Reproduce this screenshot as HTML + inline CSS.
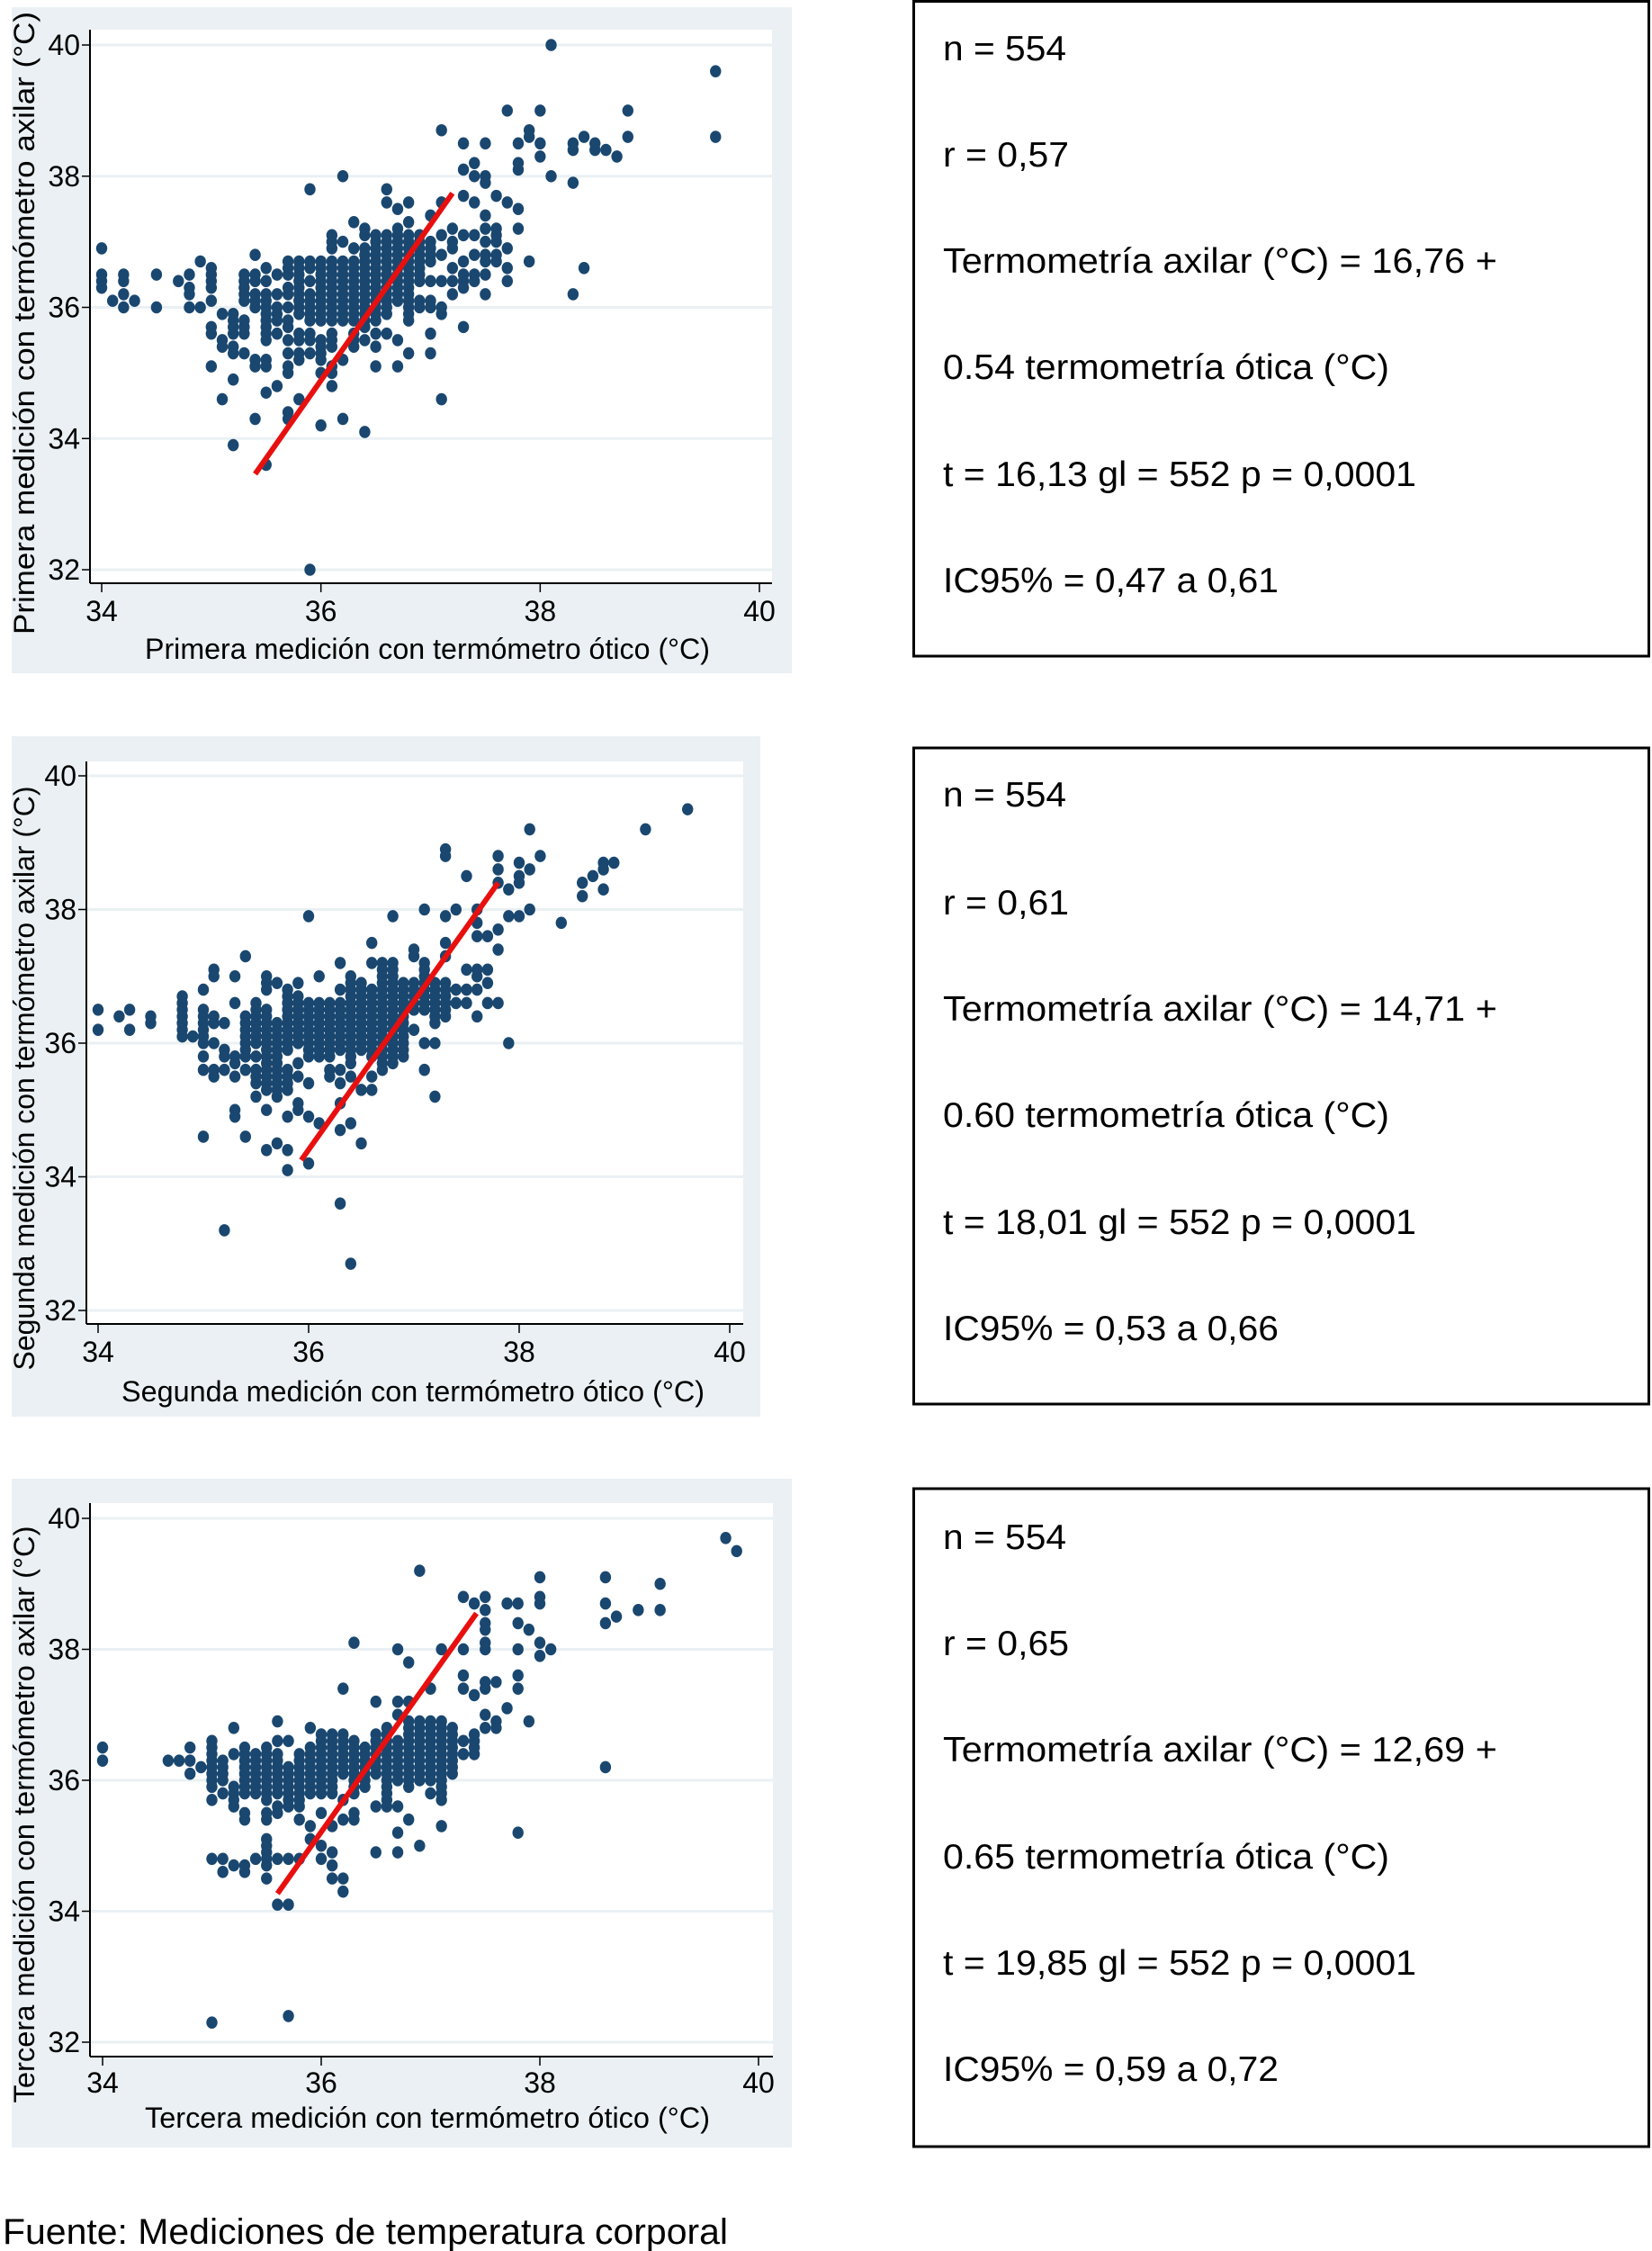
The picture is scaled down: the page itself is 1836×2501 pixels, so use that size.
<!DOCTYPE html>
<html><head><meta charset="utf-8">
<style>
html,body{margin:0;padding:0;background:#fff;}
svg{display:block;font-family:"Liberation Sans",Arial,sans-serif;}
</style></head>
<body>
<svg id="fig" width="1836" height="2501" viewBox="0 0 1836 2501" xmlns="http://www.w3.org/2000/svg">
<rect x="0" y="0" width="1836" height="2501" fill="#fff"/>
<text x="3" y="2493" font-size="40" textLength="806" lengthAdjust="spacingAndGlyphs" fill="#000">Fuente: Mediciones de temperatura corporal</text>
</svg>
<script>
// ---------- data ----------
const xTicks = [34, 36, 38, 40];
const yTicks = [32, 34, 36, 38, 40];

const cols1 = [
[34.0,[36.9,36.5,36.4,36.3]],[34.1,[36.1]],[34.2,[36.5,36.4,36.2,36.0]],[34.3,[36.1]],
[34.5,[36.5,36.0]],[34.7,[36.4]],[34.8,[36.5,36.3,36.2,36.0]],[34.9,[36.7,36.0]],
[35.0,[36.6,36.5,36.4,36.3,36.1,35.7,35.6,35.1]],[35.1,[35.9,35.5,35.4,34.6]],
[35.2,[35.9,35.8,35.7,35.6,35.4,35.3,34.9,33.9]],[35.3,[36.5,36.4,36.3,36.2,36.1,35.8,35.7,35.6,35.3]],
[35.4,[36.8,36.5,36.4,36.2,36.1,36.0,35.2,35.1,34.3]],
[35.5,[36.6,36.4,36.2,36.1,36.0,35.9,35.8,35.7,35.6,35.5,35.2,35.1,34.7,33.6]],
[35.6,[36.5,36.2,36.0,35.9,35.8,35.6,34.8]],
[35.7,[36.7,36.6,36.5,36.3,36.2,36.0,35.8,35.7,35.5,35.3,35.1,35.0,34.4,34.3]],
[35.8,[36.7,36.6,36.5,36.4,36.3,36.2,36.1,36.0,35.9,35.6,35.5,35.3,35.2,34.6]],
[35.9,[37.8,36.7,36.6,36.4,36.2,36.1,36.0,35.9,35.8,35.6,35.5,35.3,32.0]],
[36.0,[36.7,36.6,36.5,36.4,36.3,36.2,36.1,36.0,35.9,35.8,35.5,35.4,35.3,35.2,35.0,34.2]],
[36.1,[37.1,37.0,36.9,36.7,36.6,36.5,36.4,36.3,36.2,36.1,36.0,35.9,35.8,35.6,35.5,35.4,35.1,35.0,34.8]],
[36.2,[38.0,37.0,36.7,36.6,36.5,36.4,36.3,36.2,36.1,36.0,35.9,35.8,35.2,34.3]],
[36.3,[37.3,36.9,36.7,36.6,36.5,36.4,36.3,36.2,36.1,36.0,35.9,35.8,35.6,35.5,35.4]],
[36.4,[37.2,37.1,36.9,36.8,36.7,36.6,36.5,36.4,36.3,36.2,36.1,36.0,35.9,35.8,35.7,35.5,34.1]],
[36.5,[37.1,37.0,36.9,36.8,36.7,36.6,36.5,36.4,36.3,36.2,36.1,36.0,35.9,35.8,35.6,35.4,35.1]],
[36.6,[37.8,37.6,37.1,37.0,36.9,36.8,36.7,36.6,36.5,36.4,36.3,36.2,36.1,36.0,35.9,35.6]],
[36.7,[37.5,37.2,37.1,37.0,36.9,36.8,36.7,36.6,36.5,36.4,36.3,36.2,36.1,35.5,35.1]],
[36.8,[37.6,37.3,37.1,37.0,36.9,36.8,36.7,36.6,36.5,36.4,36.3,36.2,36.1,36.0,35.9,35.8,35.3]],
[36.9,[37.1,37.0,36.9,36.8,36.7,36.6,36.5,36.4,36.1,36.0]],
[37.0,[37.4,37.0,36.9,36.8,36.7,36.4,36.1,36.0,35.6,35.3]],
[37.1,[38.7,37.6,37.1,36.8,36.4,36.0,35.9,34.6]],[37.2,[37.2,37.0,36.9,36.6,36.4,36.2]],
[37.3,[38.5,38.1,37.7,37.1,36.7,36.5,36.4,36.3,35.7]],[37.4,[38.2,38.0,37.6,37.1,36.8,36.5,36.4]],
[37.5,[38.5,38.0,37.9,37.4,37.2,37.0,36.8,36.7,36.5,36.2]],[37.6,[37.7,37.2,37.1,37.0,36.8,36.7]],
[37.7,[39.0,37.6,36.9,36.6,36.4]],[37.8,[38.5,38.2,38.1,37.5,37.2]],[37.9,[38.7,38.6,36.7]],
[38.0,[39.0,38.5,38.3]],[38.1,[40.0,38.0]],[38.3,[38.5,38.4,37.9,36.2]],[38.4,[38.6,36.6]],
[38.5,[38.5,38.4]],[38.6,[38.4]],[38.7,[38.3]],[38.8,[39.0,38.6]],[39.6,[39.6,38.6]]
];
const cols2 = [
[34.0,[36.5,36.2]],[34.2,[36.4]],[34.3,[36.5,36.2]],[34.5,[36.4,36.3]],
[34.8,[36.7,36.6,36.5,36.4,36.3,36.2,36.1]],[34.9,[36.1]],
[35.0,[36.8,36.5,36.4,36.3,36.2,36.1,36.0,35.8,35.6,34.6]],
[35.1,[37.1,37.0,36.4,36.3,36.0,35.6,35.5]],[35.2,[36.3,35.9,35.8,35.6,33.2]],
[35.3,[37.0,36.6,35.8,35.7,35.5,35.0,34.9]],[35.4,[37.3,36.4,36.3,36.2,36.1,36.0,35.9,35.8,35.6,34.6]],
[35.5,[36.6,36.5,36.4,36.3,36.2,36.1,36.0,35.8,35.6,35.5,35.4,35.2]],
[35.6,[37.0,36.9,36.8,36.5,36.4,36.3,36.2,36.1,36.0,35.9,35.8,35.7,35.6,35.5,35.4,35.3,35.0,34.4]],
[35.7,[36.9,36.3,36.2,36.1,36.0,35.9,35.8,35.7,35.6,35.5,35.4,35.3,35.2,34.5]],
[35.8,[36.8,36.7,36.6,36.5,36.4,36.3,36.2,36.1,36.0,35.9,35.6,35.5,35.4,35.3,34.9,34.4,34.1]],
[35.9,[36.9,36.7,36.6,36.5,36.4,36.3,36.2,36.1,36.0,35.7,35.5,35.1,35.0]],
[36.0,[37.9,36.6,36.5,36.4,36.3,36.2,36.1,36.0,35.9,35.8,35.4,34.9,34.2]],
[36.1,[37.0,36.6,36.5,36.4,36.3,36.2,36.1,36.0,35.9,35.8,34.8]],
[36.2,[36.6,36.5,36.4,36.3,36.2,36.1,36.0,35.9,35.8,35.6,35.5]],
[36.3,[37.2,36.8,36.6,36.5,36.4,36.3,36.2,36.1,36.0,35.9,35.6,35.4,35.1,34.7,33.6]],
[36.4,[37.0,36.9,36.8,36.7,36.6,36.5,36.4,36.3,36.2,36.1,36.0,35.9,35.8,35.7,35.5,34.8,32.7]],
[36.5,[36.9,36.8,36.7,36.6,36.5,36.4,36.3,36.2,36.1,36.0,35.9,35.3,34.5]],
[36.6,[37.5,37.2,36.8,36.7,36.6,36.5,36.4,36.3,36.2,36.1,36.0,35.9,35.8,35.5,35.3]],
[36.7,[37.2,37.1,37.0,36.9,36.8,36.7,36.6,36.5,36.4,36.3,36.2,36.1,36.0,35.9,35.8,35.7,35.6]],
[36.8,[37.9,37.2,37.1,37.0,36.9,36.8,36.7,36.6,36.5,36.4,36.3,36.2,36.1,36.0,35.9,35.8,35.7]],
[36.9,[36.9,36.8,36.7,36.6,36.5,36.4,36.3,36.2,36.1,36.0,35.9,35.8]],
[37.0,[37.4,37.3,36.9,36.8,36.7,36.6,36.5,36.2]],
[37.1,[38.0,37.2,37.1,37.0,36.9,36.8,36.7,36.6,36.5,36.0,35.6]],
[37.2,[36.9,36.8,36.7,36.6,36.5,36.4,36.3,36.0,35.2]],
[37.3,[38.9,38.8,37.9,37.5,37.3,36.9,36.8,36.7,36.6,36.5,36.4]],[37.4,[38.0,36.8,36.6]],
[37.5,[38.5,37.1,36.8,36.6]],[37.6,[38.0,37.8,37.6,37.1,37.0,36.8,36.4]],[37.7,[37.6,37.1,36.9,36.6]],
[37.8,[38.8,38.6,38.4,37.7,37.4,36.6]],[37.9,[38.3,37.9,36.0]],[38.0,[38.7,38.5,38.4,37.9]],
[38.1,[39.2,38.6,38.0]],[38.2,[38.8]],[38.4,[37.8]],[38.6,[38.4,38.2]],[38.7,[38.5]],
[38.8,[38.7,38.6,38.3]],[38.9,[38.7]],[39.2,[39.2]],[39.6,[39.5]]
];
const cols3 = [
[34.0,[36.5,36.3]],[34.6,[36.3]],[34.7,[36.3]],[34.8,[36.5,36.3,36.1]],[34.9,[36.2]],
[35.0,[36.6,36.5,36.4,36.3,36.2,36.1,36.0,35.9,35.7,34.8,32.3]],
[35.1,[36.3,36.2,36.1,36.0,35.8,34.8,34.6]],[35.2,[36.8,36.4,35.9,35.8,35.7,35.6,34.7]],
[35.3,[36.5,36.4,36.3,36.2,36.1,36.0,35.9,35.8,35.5,35.4,34.7,34.6]],
[35.4,[36.4,36.3,36.2,36.1,36.0,35.9,35.8,34.8]],
[35.5,[36.5,36.4,36.3,36.2,36.1,36.0,35.9,35.8,35.7,35.5,35.4,35.1,35.0,34.9,34.8,34.7,34.5]],
[35.6,[36.9,36.6,36.4,36.3,36.2,36.1,36.0,35.9,35.8,35.6,35.5,34.8,34.1]],
[35.7,[36.6,36.2,36.1,36.0,35.9,35.8,35.7,35.6,34.8,34.1,32.4]],
[35.8,[36.4,36.3,36.2,36.1,36.0,35.9,35.8,35.7,35.6,35.4,34.8]],
[35.9,[36.8,36.5,36.4,36.3,36.2,36.1,36.0,35.9,35.8,35.3,35.1]],
[36.0,[36.7,36.6,36.5,36.4,36.3,36.2,36.1,36.0,35.9,35.8,35.5,35.0,34.8]],
[36.1,[36.7,36.6,36.5,36.4,36.3,36.2,36.1,36.0,35.9,35.8,35.3,34.9,34.7,34.5]],
[36.2,[37.4,36.7,36.6,36.5,36.4,36.3,36.2,36.1,35.7,35.4,34.5,34.3]],
[36.3,[38.1,36.6,36.5,36.4,36.3,36.2,36.1,36.0,35.9,35.8,35.5,35.4]],
[36.4,[36.5,36.4,36.3,36.2,36.1,36.0,35.9]],
[36.5,[37.2,36.7,36.6,36.5,36.4,36.3,36.2,36.1,35.6,34.9]],
[36.6,[36.8,36.7,36.6,36.5,36.4,36.3,36.2,36.1,36.0,35.9,35.8,35.7,35.6]],
[36.7,[38.0,37.2,37.0,36.6,36.5,36.4,36.3,36.2,36.1,36.0,35.6,35.2,34.9]],
[36.8,[37.8,37.2,36.9,36.8,36.7,36.6,36.5,36.4,36.3,36.2,36.1,36.0,35.9,35.4]],
[36.9,[39.2,36.9,36.8,36.7,36.6,36.5,36.4,36.3,36.2,36.1,36.0,35.0]],
[37.0,[37.4,36.9,36.8,36.7,36.6,36.5,36.4,36.3,36.2,36.1,36.0,35.8]],
[37.1,[38.0,36.9,36.8,36.7,36.6,36.5,36.4,36.3,36.2,36.1,36.0,35.9,35.8,35.7,35.3]],
[37.2,[36.8,36.7,36.6,36.5,36.4,36.3,36.2,36.1]],
[37.3,[38.8,38.0,37.6,37.4,36.6,36.4]],[37.4,[38.7,37.3,36.7,36.6,36.5,36.4]],
[37.5,[38.8,38.6,38.4,38.3,38.1,38.0,37.5,37.4,37.0,36.8]],[37.6,[37.5,36.9,36.8]],
[37.7,[38.7,37.1]],[37.8,[38.7,38.4,38.0,37.6,37.4,35.2]],[37.9,[38.3,36.9]],
[38.0,[39.1,38.8,38.7,38.1,37.9]],[38.1,[38.0]],[38.6,[39.1,38.7,38.4,36.2]],
[38.7,[38.5]],[38.9,[38.6]],[39.1,[39.0,38.6]],[39.7,[39.7]],[39.8,[39.5]]
];
const lineX1 = [35.4, 37.2], lineY1 = [33.46, 37.74];
const lineX2 = [35.93, 37.8], lineY2 = [34.25, 38.40];
const lineX3 = [35.6, 37.42], lineY3 = [34.27, 38.55];

const stats1 = ["n = 554","r = 0,57","Termometría axilar (°C) = 16,76 +","0.54 termometría ótica (°C)","t = 16,13 gl = 552 p = 0,0001","IC95% = 0,47 a 0,61"];
const stats2 = ["n = 554","r = 0,61","Termometría axilar (°C) = 14,71 +","0.60 termometría ótica (°C)","t = 18,01 gl = 552 p = 0,0001","IC95% = 0,53 a 0,66"];
const stats3 = ["n = 554","r = 0,65","Termometría axilar (°C) = 12,69 +","0.65 termometría ótica (°C)","t = 19,85 gl = 552 p = 0,0001","IC95% = 0,59 a 0,72"];

// ---------- drawing ----------
const NS = "http://www.w3.org/2000/svg";
const svg = document.getElementById("fig");
function mk(tag, attrs, parent){
  const e = document.createElementNS(NS, tag);
  for (const k in attrs) e.setAttribute(k, attrs[k]);
  (parent || svg).appendChild(e);
  return e;
}
const panels = [
 {name:"first", cols:cols1, lx:lineX1, ly:lineY1, bg:[13,8,867,740], plot:[100,33,858,648], x0:113, x1:844, y40:50, y32:633,
  ytc:359, ytl:692, xtc:475, xtl:628, xtb:732, tlb:690, ytitle:"Primera medición con termómetro axilar (°C)", xtitle:"Primera medición con termómetro ótico (°C)"},
 {name:"second", cols:cols2, lx:lineX2, ly:lineY2, bg:[13,818,832,756], plot:[96,846,826,1471], x0:109, x1:811, y40:862, y32:1456,
  ytc:1198, ytl:649, xtc:459, xtl:648, xtb:1557, tlb:1513, ytitle:"Segunda medición con termómetro axilar (°C)", xtitle:"Segunda medición con termómetro ótico (°C)"},
 {name:"third", cols:cols3, lx:lineX3, ly:lineY3, bg:[13,1643,867,743], plot:[100,1670,859,2285], x0:114, x1:843, y40:1687, y32:2269,
  ytc:2016, ytl:641, xtc:475, xtl:628, xtb:2364, tlb:2325, ytitle:"Tercera medición con termómetro axilar (°C)", xtitle:"Tercera medición con termómetro ótico (°C)"}
];
panels.forEach(p => {
  const g = mk("g", {});
  
  
  const sx = v => p.x0 + (v - 34) * (p.x1 - p.x0) / 6;
  const sy = v => p.y32 - (v - 32) * (p.y32 - p.y40) / 8;
  const bg = mk("rect", {x:p.bg[0], y:p.bg[1], width:p.bg[2], height:p.bg[3], fill:"#eaf0f3"}, g);
  
  
  const pl = mk("rect", {x:p.plot[0], y:p.plot[1], width:p.plot[2]-p.plot[0], height:p.plot[3]-p.plot[1], fill:"#fff"}, g);
  
  
  yTicks.forEach(t => {
    const gl = mk("line", {x1:p.plot[0], x2:p.plot[2], y1:sy(t), y2:sy(t), stroke:"#eaf0f3", "stroke-width":3}, g);
    
    
    mk("line", {x1:p.plot[0]-9, x2:p.plot[0], y1:sy(t), y2:sy(t), stroke:"#000", "stroke-width":1.5}, g);
    const tl = mk("text", {x:p.plot[0]-11, y:sy(t)+11, "font-size":32, "text-anchor":"end", fill:"#000"}, g);
    tl.textContent = t;
    
    
  });
  xTicks.forEach(t => {
    mk("line", {x1:sx(t), x2:sx(t), y1:p.plot[3], y2:p.plot[3]+10, stroke:"#000", "stroke-width":1.5}, g);
    const tl = mk("text", {x:sx(t), y:p.tlb, "font-size":32, "text-anchor":"middle", fill:"#000"}, g);
    tl.textContent = t;
    
    
  });
  mk("line", {x1:p.plot[0], x2:p.plot[0], y1:p.plot[1], y2:p.plot[3], stroke:"#000", "stroke-width":2}, g);
  mk("line", {x1:p.plot[0], x2:p.plot[2], y1:p.plot[3], y2:p.plot[3], stroke:"#000", "stroke-width":2}, g);
  p.cols.forEach(c => {
    c[1].forEach(v => {
      const d = mk("ellipse", {cx:sx(c[0]), cy:sy(v), rx:6.2, ry:6.8, fill:"#1a476f"}, g);
      
      
    });
  });
  const ln = mk("line", {x1:sx(p.lx[0]), y1:sy(p.ly[0]), x2:sx(p.lx[1]), y2:sy(p.ly[1]), stroke:"#e8100f", "stroke-width":6}, g);
  
  
  const yt = mk("text", {x:0, y:0, "font-size":32, "text-anchor":"middle", fill:"#000", textLength:p.ytl, lengthAdjust:"spacingAndGlyphs", transform:`translate(38 ${p.ytc}) rotate(-90)`}, g);
  yt.textContent = p.ytitle;
  
  
  const xt = mk("text", {x:p.xtc, y:p.xtb, "font-size":32, "text-anchor":"middle", fill:"#000", textLength:p.xtl, lengthAdjust:"spacingAndGlyphs"}, g);
  xt.textContent = p.xtitle;
  
  
});

const boxes = [{stats:stats1, y:0, h:729, c:[53,171,289,407,526,644]},
               {stats:stats2, y:831, h:729, c:[882,1002,1120,1238,1357,1475]},
               {stats:stats3, y:1654, h:731, c:[1707,1825,1943,2062,2180,2298]}];
const lens = [137,140,616,496,526,373];
boxes.forEach((b, i) => {
  const g = mk("g", {});
  
  
  mk("rect", {x:1015.5, y:Math.max(b.y,1.5), width:817, height:b.h - (b.y===0?1.5:0), fill:"none", stroke:"#000", "stroke-width":3}, g);
  b.stats.forEach((s, j) => {
    const t = mk("text", {x:1048, y:b.c[j]+14, "font-size":39, fill:"#000", textLength:lens[j], lengthAdjust:"spacingAndGlyphs"}, g);
    t.textContent = s;
    
    
  });
});
</script>
</body></html>
